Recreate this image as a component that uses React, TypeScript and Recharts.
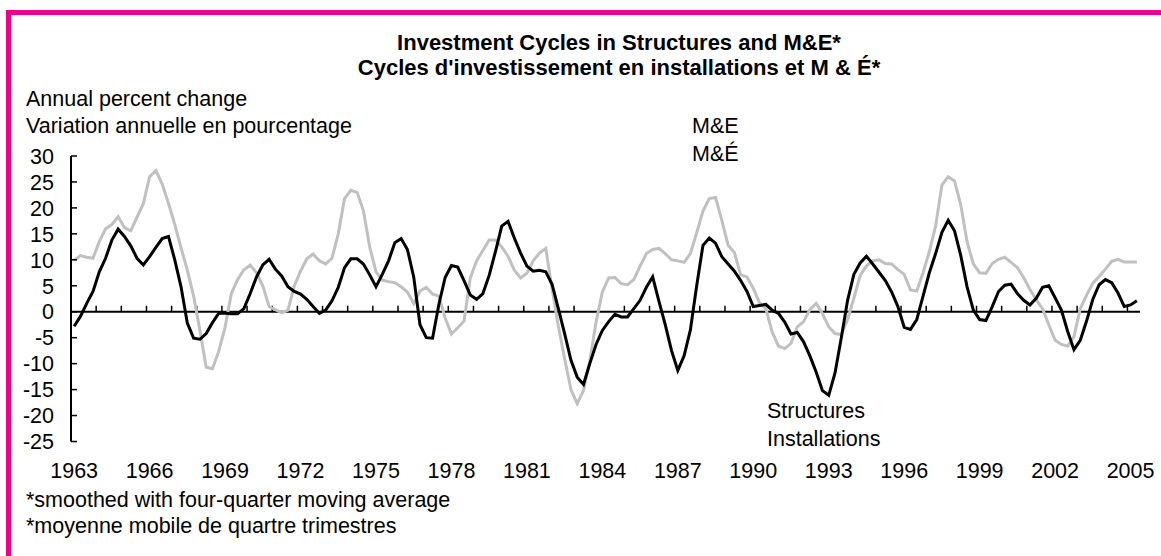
import React from "react";
import { LineChart, Line, XAxis, YAxis, ReferenceLine } from "recharts";

// quarterly, 1963Q1 .. 2005Q2, four-quarter moving average of annual % change
const FIRST_YEAR = 1963;

const structures = [
  -2.8, -0.9, 1.6, 3.9, 7.7, 10.3, 13.8, 15.9, 14.5, 12.7,
  10.3, 9.0, 10.6, 12.4, 14.1, 14.5, 10.0, 4.8, -2.2, -5.1,
  -5.3, -4.2, -2.1, -0.3, -0.3, -0.4, -0.4, 0.6, 3.5, 6.7,
  9.0, 10.1, 8.2, 6.9, 4.8, 3.9, 3.4, 2.4, 1.0, -0.3,
  0.3, 2.1, 4.7, 8.5, 10.2, 10.2, 9.2, 7.1, 4.8, 7.2,
  9.8, 13.3, 14.1, 12.0, 6.7, -2.5, -5.0, -5.1, 1.4, 6.6,
  8.9, 8.6, 6.0, 3.2, 2.4, 3.5, 7.0, 11.6, 16.5, 17.4,
  14.2, 11.3, 8.8, 7.8, 8.0, 7.7, 5.3, 0.6, -4.2, -9.3,
  -12.6, -14.0, -10.0, -6.3, -3.6, -1.9, -0.5, -1.0, -1.0, 0.6,
  2.2, 4.7, 6.7, 2.0, -2.5, -7.5, -11.3, -8.5, -3.5, 5.0,
  12.8, 14.2, 13.2, 10.6, 9.2, 7.8, 6.0, 3.9, 1.0, 1.2,
  1.4, 0.3, -0.3, -2.0, -4.3, -4.0, -5.8, -8.5, -11.6, -15.2,
  -16.1, -11.8, -5.0, 2.2, 7.2, 9.4, 10.7, 9.2, 7.6, 6.0,
  3.8, 1.0, -3.0, -3.4, -1.5, 3.0, 7.5, 11.2, 15.3, 17.6,
  15.6, 10.8, 4.8, 0.3, -1.5, -1.7, 1.0, 3.9, 5.1, 5.3,
  3.5, 2.2, 1.3, 2.6, 4.7, 5.0, 2.7, 0.3, -3.8, -7.3,
  -5.5, -1.8, 2.4, 5.2, 6.2, 5.6, 3.6, 1.0, 1.3, 2.1,
];

const machinery = [
  9.9, 10.8, 10.5, 10.3, 13.5, 16.0, 16.8, 18.3, 16.2, 15.6,
  18.2, 20.8, 26.0, 27.2, 24.6, 20.9, 16.8, 12.3, 8.0, 3.0,
  -3.6, -10.7, -11.0, -7.6, -3.0, 3.5, 6.2, 8.1, 9.0, 7.5,
  5.0, 1.0, 0.4, -0.2, 0.3, 4.9, 7.8, 10.2, 11.1, 9.8,
  9.2, 10.3, 15.0, 21.8, 23.4, 23.0, 19.5, 12.5, 7.7, 6.1,
  5.8, 5.6, 4.8, 3.8, 1.6, 4.0, 4.7, 3.4, 3.0, -1.2,
  -4.3, -3.1, -1.8, 6.5, 9.8, 11.8, 13.8, 13.8, 12.5, 10.7,
  8.0, 6.5, 7.4, 9.8, 11.3, 12.2, 4.5, -2.8, -9.0, -15.0,
  -17.7, -15.2, -9.5, -2.0, 3.8, 6.5, 6.6, 5.4, 5.2, 6.2,
  8.8, 11.2, 12.0, 12.2, 11.2, 10.0, 9.8, 9.5, 11.2, 15.2,
  19.4, 21.8, 22.0, 17.6, 12.8, 11.4, 7.1, 6.7, 4.5, 1.7,
  0.6, -3.9, -6.6, -7.1, -6.1, -2.9, -1.9, 0.4, 1.6, -0.4,
  -2.9, -4.2, -4.4, -1.5, 2.6, 7.0, 8.8, 9.8, 10.0, 9.3,
  9.2, 8.1, 7.2, 4.2, 4.0, 7.5, 11.6, 16.5, 24.4, 26.0,
  25.2, 20.6, 13.5, 9.2, 7.5, 7.4, 9.3, 10.1, 10.5, 9.5,
  8.5, 6.6, 4.3, 2.3, 0.6, -2.5, -5.5, -6.3, -6.6, -4.8,
  0.6, 3.2, 5.5, 6.8, 8.2, 9.7, 10.1, 9.6, 9.6, 9.6,
];

const yTicks = [-25, -20, -15, -10, -5, 0, 5, 10, 15, 20, 25, 30];
const labelYears = [1963, 1966, 1969, 1972, 1975, 1978, 1981, 1984, 1987, 1990, 1993, 1996, 1999, 2002, 2005];
const markYears = Array.from({ length: 42 }, (_, k) => FIRST_YEAR + 1 + k); // 1964..2005

const data = structures.map((v, i) => ({ q: i, structures: v, machinery: machinery[i] }));

const FONT = "'Liberation Sans', Arial, sans-serif";
const PINK = "#EC008C";
const FS = 21.5;

// year -> position of its first quarter on the category scale
const yearStart = (y: number) => (y - FIRST_YEAR) * 4;

function YTick(props: any) {
  const { x, y, payload } = props;
  return (
    <g>
      <line x1={x + 17} x2={x + 23} y1={y} y2={y} stroke="#000" strokeWidth={1.5} />
      <text x={x} y={y} dy="0.36em" textAnchor="end" fontSize={FS} fontFamily={FONT} fill="#000">
        {payload.value}
      </text>
    </g>
  );
}

function XTick(props: any) {
  const { x, y, payload } = props;
  return (
    <text x={x} y={y} textAnchor="middle" fontSize={FS} fontFamily={FONT} fill="#000">
      {FIRST_YEAR + payload.value / 4}
    </text>
  );
}

export default function App() {
  return (
    <div style={{ position: "absolute", left: 0, top: 0, width: 1161, height: 556, background: "#fff" }}>
      <LineChart
        width={1161}
        height={556}
        data={data}
        margin={{ top: 156, right: 21, left: 0, bottom: 84.5 }}
        style={{ position: "absolute", left: 0, top: 0 }}
      >
        <XAxis
          type="number"
          dataKey="q"
          domain={[-0.5, 169.5]}
          ticks={labelYears.map(yearStart)}
          interval={0}
          axisLine={false}
          tickLine={false}
          tickSize={0}
          tickMargin={36}
          height={30}
          tick={<XTick />}
        />
        <YAxis
          type="number"
          domain={[-25, 30]}
          ticks={yTicks}
          interval={0}
          width={71}
          tickLine={false}
          tickSize={0}
          tickMargin={17}
          axisLine={{ stroke: "#000", strokeWidth: 2 }}
          tick={<YTick />}
        />
        <ReferenceLine y={0} stroke="#000" strokeWidth={2} />
        {/* year tick marks sit on the zero line, pointing up */}
        {markYears.map((yr) => (
          <ReferenceLine
            key={yr}
            segment={[
              { x: yearStart(yr) - 0.5, y: 0 },
              { x: yearStart(yr) - 0.5, y: 1.15 },
            ]}
            stroke="#000"
            strokeWidth={1.5}
          />
        ))}
        <Line
          type="linear"
          dataKey="machinery"
          stroke="#C0C0C0"
          strokeWidth={3}
          dot={false}
          isAnimationActive={false}
        />
        <Line
          type="linear"
          dataKey="structures"
          stroke="#000"
          strokeWidth={3}
          dot={false}
          isAnimationActive={false}
        />
      </LineChart>

      <svg
        width={1161}
        height={556}
        style={{ position: "absolute", left: 0, top: 0, pointerEvents: "none" }}
        fontFamily={FONT}
        fill="#000"
      >
        <rect x={6} y={10} width={1155} height={5} fill={PINK} />
        <rect x={6} y={10} width={5} height={546} fill={PINK} />

        <text x={619} y={50} textAnchor="middle" fontSize={22} fontWeight="bold">
          Investment Cycles in Structures and M&amp;E*
        </text>
        <text x={619} y={75} textAnchor="middle" fontSize={22} fontWeight="bold">
          Cycles d'investissement en installations et M &amp; É*
        </text>

        <text x={26} y={106} fontSize={FS}>Annual percent change</text>
        <text x={26} y={133} fontSize={FS}>Variation annuelle en pourcentage</text>

        <text x={692} y={133} fontSize={FS}>M&amp;E</text>
        <text x={692} y={161} fontSize={FS}>M&amp;É</text>

        <text x={767} y={418} fontSize={FS}>Structures</text>
        <text x={767} y={446} fontSize={FS}>Installations</text>

        <text x={26} y={507} fontSize={FS}>*smoothed with four-quarter moving average</text>
        <text x={26} y={533} fontSize={FS}>*moyenne mobile de quartre trimestres</text>
      </svg>
    </div>
  );
}
